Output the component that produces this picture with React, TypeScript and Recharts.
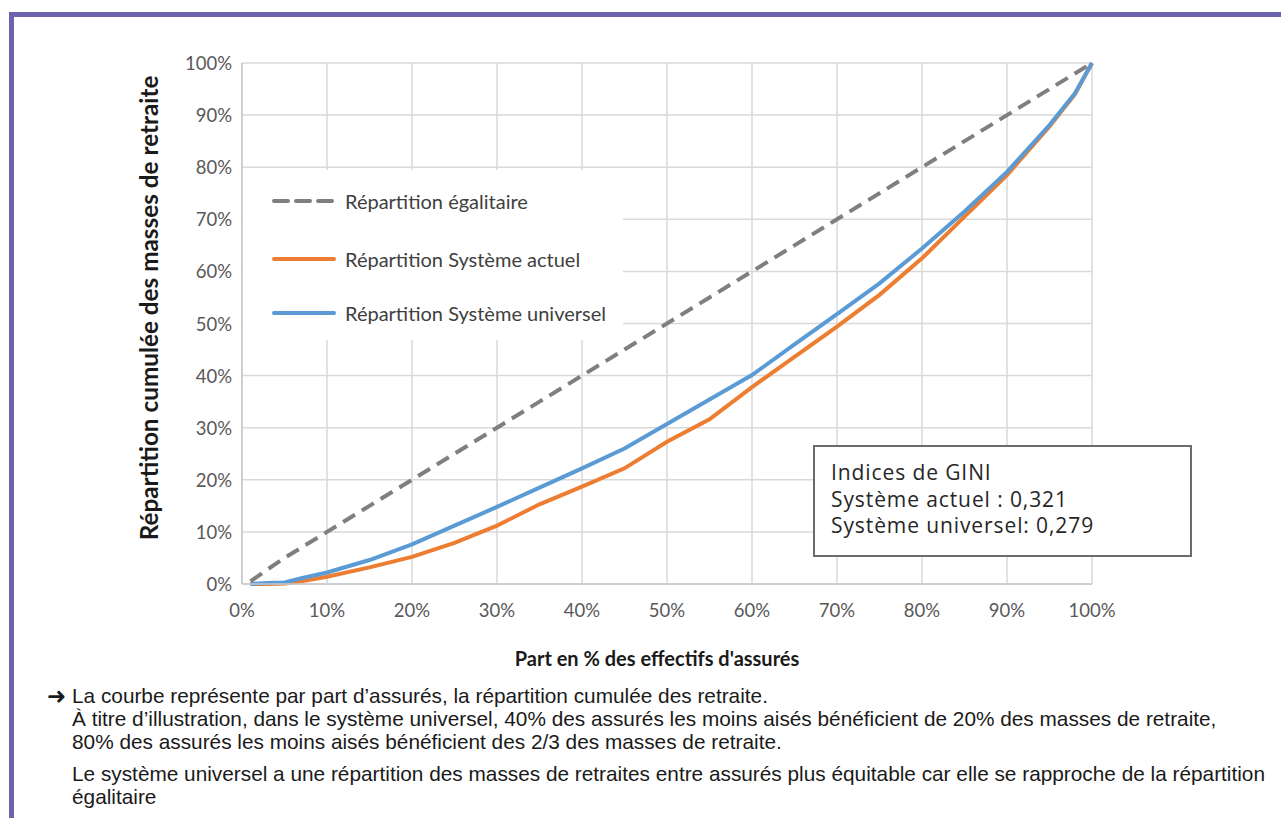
import React from "react";
import {
  CartesianGrid,
  Label,
  Legend,
  Line,
  LineChart,
  XAxis,
  YAxis,
} from "recharts";

const sharePct = [1, 3, 5, 7, 10, 15, 20, 25, 30, 35, 40, 45, 50, 55, 60, 65, 70, 75, 80, 85, 90, 95, 98, 100];
// répartition cumulée des masses de retraite (%)
const egalitaire = [0.5, 2.8, 5, 7, 10, 15, 20, 25, 30, 35, 40, 45, 50, 55, 60, 65, 70, 75, 80, 85, 90, 95, 98, 100];
const actuel = [0, 0, 0.1, 0.5, 1.4, 3.2, 5.2, 7.9, 11.2, 15.3, 18.7, 22.2, 27.3, 31.6, 37.8, 43.6, 49.4, 55.5, 62.5, 70.5, 78.5, 87.8, 94, 100];
const universel = [0, 0.2, 0.3, 1.1, 2.2, 4.6, 7.6, 11.2, 14.8, 18.5, 22.2, 26.0, 30.7, 35.4, 40.1, 46.0, 51.8, 57.7, 64.4, 71.5, 79.1, 88.1, 94.2, 100];

const ticks = [0, 10, 20, 30, 40, 50, 60, 70, 80, 90, 100];

const seriesNames = [
  "Répartition égalitaire",
  "Répartition Système actuel",
  "Répartition Système universel",
];
const giniLines = ["Indices de GINI", "Système actuel : 0,321", "Système universel: 0,279"];
const notes = [
  "La courbe représente par part d’assurés, la répartition cumulée des retraite.",
  "À titre d’illustration, dans le système universel, 40% des assurés les moins aisés bénéficient de 20% des masses de retraite,",
  "80% des assurés les moins aisés bénéficient des 2/3 des masses de retraite.",
  "Le système universel a une répartition des masses de retraites entre assurés plus équitable car elle se rapproche de la répartition",
  "égalitaire",
];

const data = sharePct.map((x, i) => ({
  x,
  egal: egalitaire[i],
  actuel: actuel[i],
  universel: universel[i],
}));

const GRAY = "#7f7f7f";
const ORANGE = "#ed7d31";
const BLUE = "#5b9bd5";
const FONT = "Lato, 'Open Sans', sans-serif";

const YTick = ({ x, y, payload }: any) => (
  <text x={x} y={y} textAnchor="end" dominantBaseline="central" fill="#595959" fontSize={18.5} fontFamily={FONT}>
    {payload.value}%
  </text>
);

const XTick = ({ x, y, payload }: any) => (
  <text x={x} y={y + 18} textAnchor="middle" dominantBaseline="central" fill="#595959" fontSize={18.5} fontFamily={FONT}>
    {payload.value}%
  </text>
);

const LegendBox = () => {
  const rows = [
    { name: seriesNames[0], color: GRAY, dash: "14 8", y: 31 },
    { name: seriesNames[1], color: ORANGE, dash: undefined, y: 89 },
    { name: seriesNames[2], color: BLUE, dash: undefined, y: 143 },
  ];
  return (
    <svg width={380} height={170} style={{ display: "block" }}>
      <rect x={0} y={0} width={380} height={170} fill="#fff" />
      {rows.map((r) => (
        <g key={r.name}>
          <line x1={31} x2={91} y1={r.y} y2={r.y} stroke={r.color} strokeWidth={4} strokeDasharray={r.dash} strokeLinecap="round" />
          <text x={102} y={r.y} dominantBaseline="central" fontSize={20} fill="#404040" fontFamily={FONT}>
            {r.name}
          </text>
        </g>
      ))}
    </svg>
  );
};

export default function App() {
  return (
    <div
      style={{
        position: "absolute",
        left: 0,
        top: 0,
        width: 1281,
        height: 818,
        background: "#fff",
        overflow: "hidden",
      }}
    >
      <div style={{ position: "absolute", left: 9, top: 12, width: 1272, height: 5, background: "#6b63ad" }} />
      <div style={{ position: "absolute", left: 9, top: 12, width: 5, height: 806, background: "#6b63ad" }} />

      <div style={{ position: "absolute", left: 0, top: 0 }}>
        <LineChart width={1281} height={680} data={data} margin={{ top: 63, right: 189, bottom: 66, left: 182 }}>
          <CartesianGrid stroke="#d9d9d9" strokeWidth={1.5} horizontalValues={ticks} verticalValues={ticks} />
          <XAxis
            type="number"
            dataKey="x"
            domain={[0, 100]}
            ticks={ticks}
            tick={<XTick />}
            tickLine={false}
            axisLine={{ stroke: "#c8c8c8", strokeWidth: 1.5 }}
            height={30}
          >
            <Label
              content={() => (
                <text x={657} y={658} textAnchor="middle" dominantBaseline="central" fontSize={20} fontWeight={700} fill="#1a1a1a" fontFamily={FONT}>
                  Part en % des effectifs d'assurés
                </text>
              )}
            />
          </XAxis>
          <YAxis
            type="number"
            domain={[0, 100]}
            ticks={ticks}
            tick={<YTick />}
            tickLine={false}
            tickMargin={4}
            axisLine={{ stroke: "#c8c8c8", strokeWidth: 1.5 }}
            width={60}
          >
            <Label
              content={() => (
                <text
                  x={148}
                  y={308}
                  transform="rotate(-90 148 308)"
                  textAnchor="middle"
                  dominantBaseline="central"
                  fontSize={24.3}
                  fontWeight={700}
                  fill="#1a1a1a"
                  fontFamily={FONT}
                >
                  Répartition cumulée des masses de retraite
                </text>
              )}
            />
          </YAxis>
          <Legend
            layout="horizontal"
            verticalAlign="middle"
            align="center"
            content={<LegendBox />}
            wrapperStyle={{ left: 243, top: 170, width: 380, height: 170 }}
          />
          <Line
            type="linear"
            dataKey="egal"
            name={seriesNames[0]}
            stroke={GRAY}
            strokeWidth={4}
            strokeDasharray="14 8"
            dot={false}
            isAnimationActive={false}
          />
          <Line
            type="linear"
            dataKey="actuel"
            name={seriesNames[1]}
            stroke={ORANGE}
            strokeWidth={4}
            dot={false}
            isAnimationActive={false}
          />
          <Line
            type="linear"
            dataKey="universel"
            name={seriesNames[2]}
            stroke={BLUE}
            strokeWidth={4}
            dot={false}
            isAnimationActive={false}
          />
        </LineChart>
      </div>

      <div
        style={{
          position: "absolute",
          left: 813,
          top: 445,
          width: 375,
          height: 108,
          border: "2px solid #6b6b6b",
          background: "#fff",
          boxSizing: "content-box",
          fontFamily: "'Open Sans', sans-serif",
          fontSize: 21,
          color: "#262626",
          letterSpacing: 0.9,
        }}
      >
        {giniLines.map((t, i) => (
          <div key={t} style={{ position: "absolute", left: 16, top: 12 + i * 26.5, lineHeight: "26px", whiteSpace: "nowrap" }}>
            {t}
          </div>
        ))}
      </div>

      <div
        style={{
          position: "absolute",
          left: 0,
          top: 0,
          fontFamily: "'Liberation Sans', Arial, sans-serif",
          fontSize: 20.8,
          color: "#1a1a1a",
        }}
      >
        <span
          style={{
            position: "absolute",
            left: 47,
            top: 684,
            fontFamily: "'DejaVu Sans', sans-serif",
            fontSize: 23,
            fontWeight: 700,
            lineHeight: "24px",
          }}
        >
          ➜
        </span>
        {notes.map((t, i) => (
          <div
            key={i}
            style={{
              position: "absolute",
              left: 72,
              top: [684, 707, 730, 762, 785][i],
              lineHeight: "24px",
              whiteSpace: "nowrap",
            }}
          >
            {t}
          </div>
        ))}
      </div>
    </div>
  );
}
